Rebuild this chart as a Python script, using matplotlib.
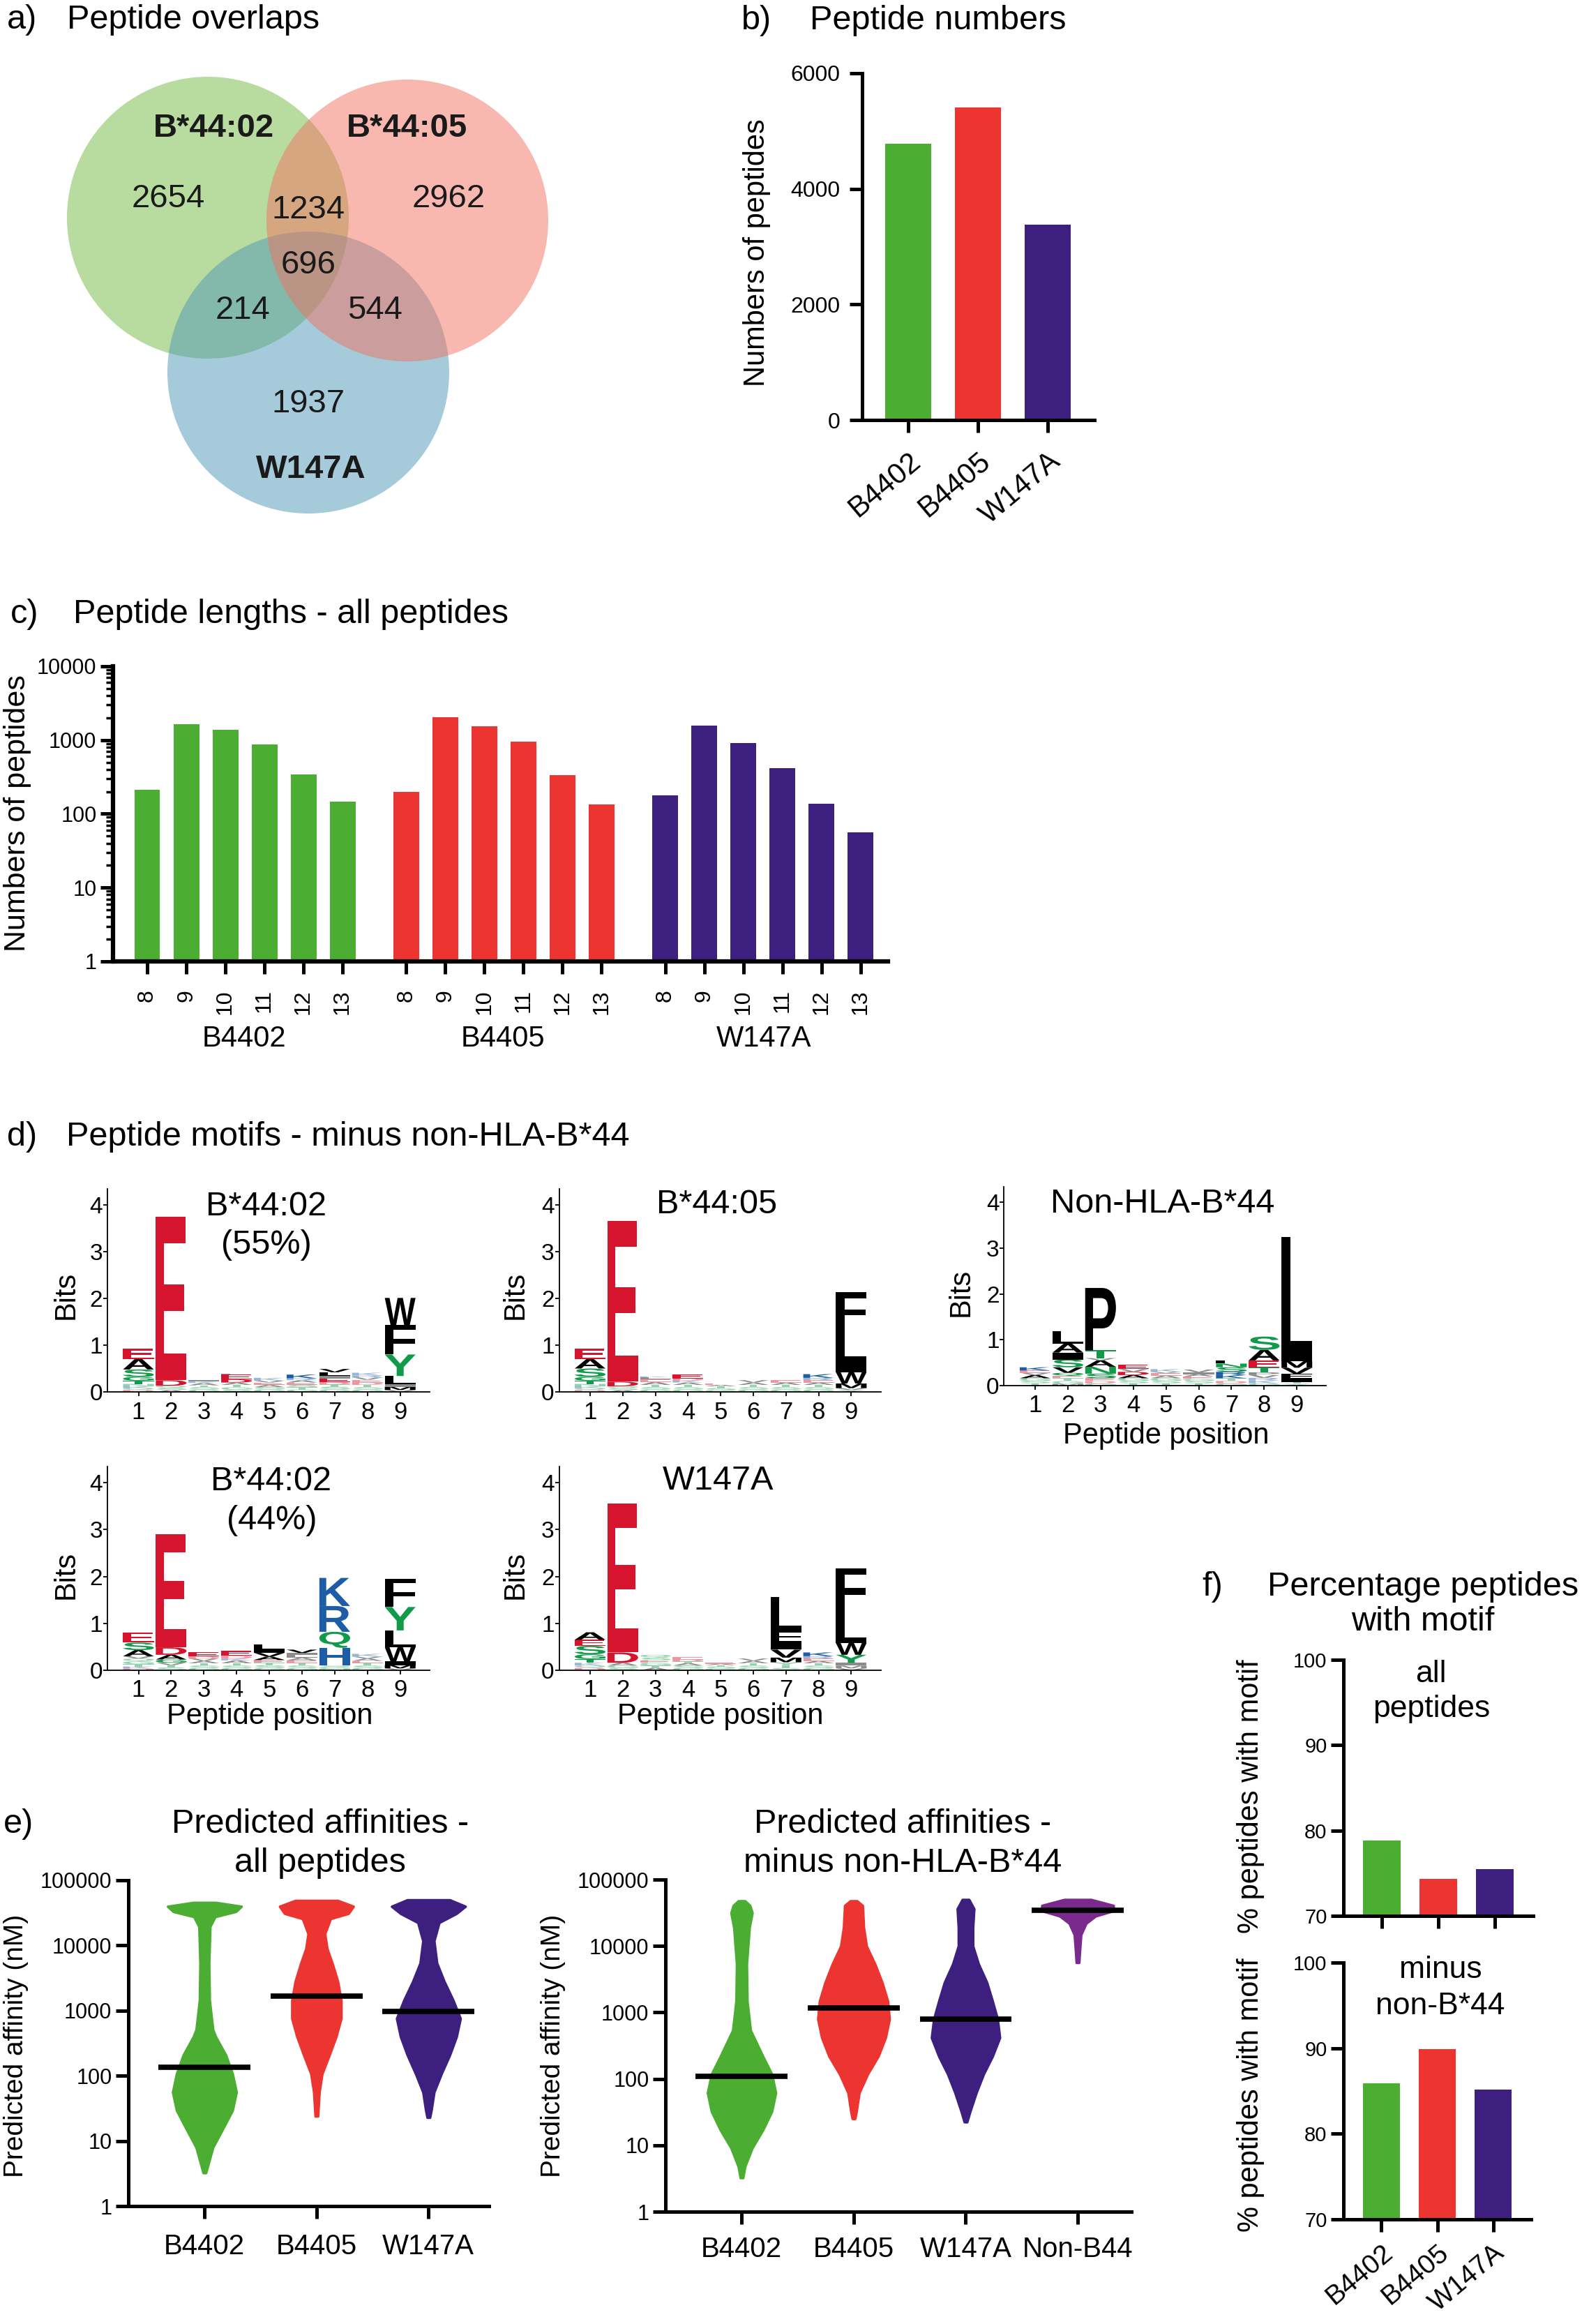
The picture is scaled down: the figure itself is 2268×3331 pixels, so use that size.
import numpy as np
import matplotlib
matplotlib.use("Agg")
import matplotlib.pyplot as plt
from matplotlib.patches import Circle, PathPatch
from matplotlib.textpath import TextPath
from matplotlib.font_manager import FontProperties
from matplotlib.transforms import Affine2D
from matplotlib.ticker import LogLocator, NullFormatter

plt.rcParams['font.family'] = ['Liberation Sans', 'DejaVu Sans']

W, H = 2268, 3331
GREEN, RED, PURPLE, VIOLET = '#4bae32', '#ec3431', '#3d1f80', '#7a2a8c'
alleles = ['B4402', 'B4405', 'W147A']
allele_colors = [GREEN, RED, PURPLE]

# a) venn counts
venn_labels = ['B*44:02', 'B*44:05', 'W147A']
venn_counts = {'only_02': 2654, 'only_05': 2962, 'only_w': 1937,
               '02_05': 1234, '02_w': 214, '05_w': 544, 'all': 696}

# b) peptide numbers
peptide_numbers = [4780, 5410, 3375]

# c) length distribution
lengths = [8, 9, 10, 11, 12, 13]
len_b4402 = [213, 1644, 1385, 881, 341, 147]
len_b4405 = [199, 2040, 1543, 956, 335, 133]
len_w147a = [177, 1558, 913, 413, 137, 56]

# d) motif stacks (letter, bits), bottom to top
motif_b4402_55 = [
    [('D', .04), ('Q', .04), ('K', .04), ('N', .05), ('T', .07), ('G', .08), ('S', .16), ('A', .22), ('E', .22)],
    [('A', .04), ('S', .05), ('Q', .04), ('D', .12), ('E', 3.49)],
    [('G', .05), ('S', .05), ('T', .04), ('A', .05), ('K', .03), ('I', .03)],
    [('S', .05), ('G', .05), ('T', .05), ('A', .05), ('D', .07), ('E', .1), ('L', .02)],
    [('G', .05), ('S', .05), ('A', .05), ('E', .05), ('V', .04), ('K', .06)],
    [('G', .05), ('T', .05), ('S', .05), ('E', .05), ('A', .05), ('R', .04), ('K', .08)],
    [('G', .05), ('S', .06), ('T', .05), ('D', .05), ('E', .08), ('I', .06), ('L', .07), ('V', .07)],
    [('G', .05), ('S', .05), ('T', .05), ('D', .05), ('E', .06), ('V', .05), ('R', .04), ('K', .06)],
    [('V', .04), ('M', .07), ('I', .06), ('L', .17), ('Y', .46), ('F', .63), ('W', .58)],
]
motif_b4405 = [
    [('D', .04), ('Q', .04), ('K', .04), ('N', .05), ('T', .07), ('G', .08), ('S', .18), ('A', .2), ('E', .22)],
    [('A', .04), ('S', .04), ('Q', .04), ('D', .1), ('E', 3.44)],
    [('G', .05), ('S', .05), ('T', .05), ('A', .06), ('E', .06), ('L', .04), ('K', .02)],
    [('G', .05), ('S', .05), ('T', .05), ('A', .05), ('K', .04), ('D', .05), ('E', .08)],
    [('G', .04), ('S', .04), ('T', .04), ('A', .03), ('E', .03)],
    [('G', .05), ('S', .05), ('T', .05), ('A', .05), ('V', .05)],
    [('G', .05), ('S', .05), ('T', .05), ('A', .05), ('E', .05)],
    [('G', .05), ('S', .05), ('T', .05), ('A', .05), ('E', .05), ('R', .05), ('K', .08)],
    [('Y', .04), ('V', .04), ('M', .1), ('W', .24), ('I', .22), ('L', .71), ('F', .78)],
]
motif_nonb44 = [
    [('T', .05), ('S', .05), ('G', .06), ('A', .07), ('V', .05), ('E', .05), ('K', .07)],
    [('M', .04), ('G', .06), ('T', .06), ('E', .05), ('Q', .07), ('V', .12), ('S', .17), ('I', .15), ('A', .2), ('L', .26)],
    [('G', .05), ('D', .05), ('E', .06), ('S', .1), ('N', .15), ('A', .14), ('V', .05), ('T', .17), ('P', 1.36)],
    [('T', .05), ('S', .05), ('G', .06), ('A', .07), ('D', .07), ('V', .06), ('E', .09)],
    [('T', .05), ('S', .05), ('G', .06), ('A', .06), ('E', .05), ('V', .03), ('K', .06)],
    [('T', .05), ('S', .05), ('G', .05), ('E', .05), ('A', .05), ('I', .04), ('V', .06)],
    [('G', .05), ('D', .05), ('T', .06), ('K', .07), ('R', .07), ('S', .1), ('N', .08), ('L', .07)],
    [('G', .05), ('K', .06), ('R', .06), ('V', .06), ('P', .06), ('T', .1), ('E', .16), ('A', .23), ('S', .29)],
    [('Y', .04), ('T', .04), ('I', .08), ('F', .1), ('V', .13), ('M', .15), ('L', 2.7)],
]
motif_b4402_44 = [
    [('D', .04), ('K', .04), ('T', .05), ('G', .06), ('Q', .06), ('V', .05), ('A', .13), ('S', .16), ('E', .22)],
    [('S', .06), ('T', .05), ('V', .05), ('G', .07), ('A', .1), ('D', .16), ('E', 2.41)],
    [('G', .05), ('S', .05), ('T', .05), ('A', .05), ('V', .05), ('D', .05), ('E', .08)],
    [('G', .05), ('S', .05), ('T', .05), ('A', .06), ('K', .04), ('D', .06), ('E', .1)],
    [('G', .05), ('S', .06), ('T', .05), ('E', .06), ('A', .07), ('V', .08), ('I', .08), ('L', .1)],
    [('G', .05), ('S', .05), ('T', .05), ('E', .06), ('A', .06), ('L', .06), ('I', .04), ('V', .07)],
    [('N', .03), ('G', .04), ('S', .03), ('H', .38), ('Q', .34), ('R', .55), ('K', .6)],
    [('G', .05), ('S', .05), ('T', .05), ('E', .05), ('A', .05), ('V', .04), ('K', .06)],
    [('V', .04), ('M', .07), ('I', .08), ('W', .3), ('L', .36), ('Y', .5), ('F', .6)],
]
motif_w147a = [
    [('D', .05), ('Q', .05), ('K', .06), ('T', .08), ('G', .1), ('S', .18), ('E', .13), ('A', .16)],
    [('S', .05), ('G', .05), ('A', .06), ('D', .22), ('E', 3.17)],
    [('A', .05), ('T', .05), ('G', .06), ('E', .05), ('S', .06), ('Q', .06)],
    [('G', .05), ('S', .05), ('A', .05), ('T', .04), ('D', .04), ('E', .05)],
    [('G', .04), ('S', .04), ('T', .03), ('A', .03), ('E', .03)],
    [('G', .05), ('S', .05), ('T', .05), ('A', .05), ('V', .05)],
    [('S', .05), ('T', .06), ('Y', .06), ('M', .1), ('V', .17), ('I', .18), ('F', .22), ('L', .72)],
    [('G', .05), ('S', .05), ('T', .05), ('A', .05), ('E', .05), ('R', .05), ('K', .08)],
    [('V', .04), ('M', .06), ('I', .06), ('Y', .17), ('W', .25), ('L', .7), ('F', .9)],
]

# e) affinity profiles: log10(nM) levels and swarm half-widths
aff_all_levels = {
    'B4402': [4.66, 4.60, 4.52, 4.44, 4.29, 3.73, 3.16, 2.71, 2.60, 2.32, 2.03, 1.75, 1.47, 1.19, 0.90, 0.62, 0.51],
    'B4405': [4.69, 4.60, 4.49, 4.41, 4.18, 3.95, 3.73, 3.45, 3.16, 2.88, 2.60, 2.32, 2.03, 1.75, 1.38],
    'W147A': [4.70, 4.60, 4.49, 4.35, 4.07, 3.73, 3.45, 3.16, 2.88, 2.60, 2.32, 2.03, 1.75, 1.47, 1.36],
}
aff_all_widths = {
    'B4402': [0.10, 0.33, 0.28, 0.095, 0.05, 0.04, 0.045, 0.075, 0.10, 0.19, 0.25, 0.285, 0.25, 0.165, 0.075, 0.03, 0.012],
    'B4405': [0.19, 0.33, 0.285, 0.125, 0.075, 0.095, 0.14, 0.19, 0.22, 0.22, 0.175, 0.115, 0.05, 0.025, 0.012],
    'W147A': [0.19, 0.33, 0.25, 0.095, 0.05, 0.075, 0.14, 0.22, 0.285, 0.25, 0.19, 0.115, 0.05, 0.025, 0.012],
}
aff_all_medians = [135, 1660, 980]

aff_sub_groups = ['B4402', 'B4405', 'W147A', 'Non-B44']
aff_sub_colors = [GREEN, RED, PURPLE, VIOLET]
aff_sub_levels = {
    'B4402': [4.68, 4.61, 4.50, 4.28, 3.73, 3.17, 2.73, 2.34, 2.07, 1.79, 1.51, 1.23, 0.96, 0.68, 0.51],
    'B4405': [4.68, 4.61, 4.28, 4.00, 3.73, 3.45, 3.17, 2.90, 2.62, 2.34, 2.07, 1.79, 1.51, 1.40],
    'W147A': [4.70, 4.56, 4.28, 4.00, 3.73, 3.45, 3.17, 2.90, 2.62, 2.34, 2.07, 1.79, 1.51, 1.35],
    'Non-B44': [4.70, 4.61, 4.53, 4.45, 4.34, 4.17, 3.95, 3.75],
}
aff_sub_widths = {
    'B4402': [0.03, 0.075, 0.095, 0.07, 0.045, 0.05, 0.08, 0.19, 0.27, 0.305, 0.27, 0.19, 0.095, 0.03, 0.012],
    'B4405': [0.03, 0.08, 0.09, 0.115, 0.19, 0.255, 0.305, 0.32, 0.285, 0.22, 0.125, 0.05, 0.025, 0.012],
    'W147A': [0.03, 0.075, 0.065, 0.065, 0.115, 0.19, 0.24, 0.285, 0.305, 0.24, 0.16, 0.095, 0.04, 0.012],
    'Non-B44': [0.12, 0.32, 0.32, 0.16, 0.075, 0.03, 0.02, 0.012],
}
aff_sub_medians = [109, 1180, 790, 34700]

# f) percentage with motif
pct_all = [78.8, 74.3, 75.5]
pct_sub = [85.9, 89.9, 85.2]

fig = plt.figure(figsize=(W / 100, H / 100), dpi=100)


def rect(l, t, r, b):
    return [l / W, 1 - b / H, (r - l) / W, (b - t) / H]


def ftext(x, y, s, **kw):
    kw.setdefault('va', 'baseline')
    fig.text(x / W, 1 - y / H, s, **kw)


def style(ax, lw=3.6, tlen=13, tw=3.6, size=22):
    for s in ['top', 'right']:
        ax.spines[s].set_visible(False)
    for s in ['left', 'bottom']:
        ax.spines[s].set_linewidth(lw)
    ax.tick_params(length=tlen, width=tw, labelsize=size, pad=4)


# ---------- a) venn  (green, then blue, then red on top)
ax = fig.add_axes(rect(0, 0, 1000, 760))
ax.set_xlim(0, 1000)
ax.set_ylim(760, 0)
ax.axis('off')
for (cx, cy), c in zip([(298, 312), (442, 534), (584, 316)],
                       [(0.45, 0.72, 0.25), (0.30, 0.60, 0.72), (0.95, 0.45, 0.38)]):
    ax.add_patch(Circle((cx, cy), 202, fc=c, alpha=0.5, lw=0))
for (x, y), key in zip([(241, 297), (643, 297), (442, 591), (442, 313), (348, 457), (538, 457), (442, 392)],
                       ['only_02', 'only_05', 'only_w', '02_05', '02_w', '05_w', 'all']):
    ax.text(x, y, str(venn_counts[key]), ha='center', va='baseline', fontsize=34, color='#1a1a1a')
for (x, y), lab in zip([(306, 196), (584, 196), (446, 685)], venn_labels):
    ax.text(x, y, lab, ha='center', va='baseline', fontsize=34, fontweight='bold', color='#1a1a1a')
ftext(10, 41, 'a)', fontsize=35)
ftext(96, 41, 'Peptide overlaps', fontsize=35)

# ---------- b) peptide numbers
ax = fig.add_axes(rect(1236, 105, 1569, 602))
ax.bar(range(3), peptide_numbers, width=0.66, color=allele_colors)
ax.set_xlim(-0.66, 2.67)
ax.set_ylim(0, 6000)
ax.set_yticks([0, 2000, 4000, 6000])
style(ax, size=23)
ax.tick_params(axis='y', pad=10)
ax.set_xticks(range(3))
ax.set_xticklabels(alleles, rotation=40, ha='right', rotation_mode='anchor', fontsize=30)
ax.tick_params(axis='x', pad=15)
ftext(1063, 42, 'b)', fontsize=35)
ftext(1161, 42, 'Peptide numbers', fontsize=35)
ftext(1085, 362, 'Numbers of peptides', fontsize=30, rotation=90, ha='center', va='center')

# ---------- c) lengths
ax = fig.add_axes(rect(162, 955, 1273, 1378))
pos, ticks = [], []
for g, (vals, col) in enumerate(zip([len_b4402, len_b4405, len_w147a], allele_colors)):
    xs = [g * 6.63 + i for i in range(len(lengths))]
    ax.bar(xs, vals, width=0.66, color=col)
    pos += xs
    ticks += [str(v) for v in lengths]
ax.set_yscale('log')
ax.set_ylim(1, 10000)
ax.set_xlim(-0.875, 18.96)
style(ax, lw=4.5, size=22)
ax.yaxis.set_minor_locator(LogLocator(subs=np.arange(2, 10)))
ax.yaxis.set_minor_formatter(NullFormatter())
ax.tick_params(axis='y', which='minor', length=7, width=2.5)
ax.set_yticks([1, 10, 100, 1000, 10000])
ax.set_yticklabels(['1', '10', '100', '1000', '10000'])
ax.set_xticks(pos)
ax.set_xticklabels(ticks, rotation=90, fontsize=23)
ax.tick_params(axis='x', pad=16)
for g, name in enumerate(alleles):
    ftext([350, 721, 1095][g], 1500, name, fontsize=30, ha='center')
ftext(15, 893, 'c)', fontsize=35)
ftext(105, 893, 'Peptide lengths - all peptides', fontsize=35)
ftext(25, 1166, 'Numbers of peptides', fontsize=31, rotation=90, ha='center', va='center')

# ---------- d) logos
GLYPH = FontProperties(family=['Liberation Sans', 'DejaVu Sans'], weight='bold')
AA_COLORS = {}
for a in 'AVLIPWFM':
    AA_COLORS[a] = '#000000'
for a in 'GSTYCNQ':
    AA_COLORS[a] = '#109a4a'
for a in 'KRH':
    AA_COLORS[a] = '#1d5ca6'
for a in 'DE':
    AA_COLORS[a] = '#d6142d'


def draw_logo(ax, stacks):
    for p, stack in enumerate(stacks, start=1):
        y0 = 0.0
        for letter, h in stack:
            tp = TextPath((0, 0), letter, size=1, prop=GLYPH)
            bb = tp.get_extents()
            tr = Affine2D().translate(-bb.x0, -bb.y0).scale(0.94 / bb.width, h / bb.height).translate(p - 0.47, y0)
            col = np.array(matplotlib.colors.to_rgb(AA_COLORS[letter]))
            if h < 0.07:
                col = col * 0.45 + 0.55
            ax.add_patch(PathPatch(tr.transform_path(tp), fc=col, ec='none', lw=0))
            y0 += h


logo_specs = [
    # stacks, pos1 px, spacing, zero px, px per bit
    (motif_b4402_55, 198.5, 46.9, 1995, 67),
    (motif_b4405, 846, 46.8, 1995, 67),
    (motif_nonb44, 1484, 46.9, 1986, 65.7),
    (motif_b4402_44, 198.5, 46.9, 2394, 67.2),
    (motif_w147a, 846, 46.8, 2394, 67.2),
]
for stacks, p1, sp, zero, ppb in logo_specs:
    ax = fig.add_axes(rect(p1 - 0.95 * sp, zero - 4.34 * ppb, p1 + 8.9 * sp, zero))
    draw_logo(ax, stacks)
    ax.set_xlim(0.05, 9.9)
    ax.set_ylim(0, 4.34)
    style(ax, lw=1.3, tlen=4, tw=1.3, size=24)
    ax.set_xticks(range(1, 10))
    ax.set_yticks(range(5))
    ax.tick_params(axis='x', labelsize=25, pad=5)
    ax.tick_params(axis='y', pad=1)

logo_titles = [(382, 1742, 'B*44:02'), (382, 1797, '(55%)'), (1028, 1739, 'B*44:05'),
               (1667, 1738, 'Non-HLA-B*44'), (389, 2136, 'B*44:02'), (390, 2192, '(44%)'),
               (1030, 2135, 'W147A')]
for x, y, s in logo_titles:
    ftext(x, y, s, fontsize=35, ha='center')
for x, y in [(387, 2471), (1033, 2471), (1672, 2069)]:
    ftext(x, y, 'Peptide position', fontsize=30, ha='center')
for x, y in [(95, 1856), (739, 1856), (1378, 1852), (95, 2257), (739, 2257)]:
    ftext(x, y, 'Bits', fontsize=30, rotation=90, ha='center', va='center')
ftext(10, 1642, 'd)', fontsize=35)
ftext(95, 1642, 'Peptide motifs - minus non-HLA-B*44', fontsize=35)


# ---------- e) affinities
def swarm_panel(box, groups, colors, levels, widths, medians, xmax, xpad):
    ax = fig.add_axes(rect(*box))
    for g, (name, col) in enumerate(zip(groups, colors)):
        lv = np.array(levels[name])
        hw = np.array(widths[name])
        ax.fill_betweenx(10 ** lv, g - hw, g + hw, color=col, lw=2.5, ec=col)
        ax.hlines(medians[g], g - 0.41, g + 0.41, color='black', lw=5.5, zorder=3)
    ax.set_yscale('log')
    ax.set_ylim(1, 1e5)
    ax.set_xlim(-0.68, xmax)
    style(ax, size=22)
    ax.minorticks_off()
    ax.set_yticks([1, 10, 100, 1000, 10000, 100000])
    ax.set_yticklabels(['1', '10', '100', '1000', '10000', '100000'])
    ax.set_xticks(range(len(groups)))
    ax.set_xticklabels(groups, fontsize=29)
    ax.tick_params(axis='x', pad=xpad)
    return ax


swarm_panel((184, 2695, 701, 3162), alleles, allele_colors,
            aff_all_levels, aff_all_widths, aff_all_medians, 2.54, 15)
swarm_panel((954, 2694, 1622, 3170), aff_sub_groups, aff_sub_colors,
            aff_sub_levels, aff_sub_widths, aff_sub_medians, 3.48, 12)
ftext(5, 2627, 'e)', fontsize=35)
for cx, l2 in [(459, 'all peptides'), (1294, 'minus non-HLA-B*44')]:
    ftext(cx, 2627, 'Predicted affinities -', fontsize=35, ha='center')
    ftext(cx, 2683, l2, fontsize=35, ha='center')
for x in [23, 793]:
    ftext(x, 2932, 'Predicted affinity (nM)', fontsize=28, rotation=90, ha='center', va='center')

# ---------- f) percentage with motif
for box, vals, labels, lines in [((1926, 2379, 2198, 2746), pct_all, False,
                                  [(2051, 2411, 'all'), (2052, 2461, 'peptides')]),
                                 ((1926, 2813, 2195, 3181), pct_sub, True,
                                  [(2065, 2835, 'minus'), (2065, 2887, 'non-B*44')])]:
    ax = fig.add_axes(rect(*box))
    ax.bar(range(3), vals, width=0.67, color=allele_colors)
    ax.set_xlim(-0.68, 2.68)
    ax.set_ylim(70, 100)
    ax.set_yticks([70, 80, 90, 100])
    style(ax, size=21)
    ax.set_xticks(range(3))
    if labels:
        ax.set_xticklabels(alleles, rotation=40, ha='right', rotation_mode='anchor', fontsize=28)
        ax.tick_params(axis='x', pad=8)
    else:
        ax.set_xticklabels([])
    for x, y, s in lines:
        ftext(x, y, s, fontsize=32, ha='center')
for y in [2575, 3003]:
    ftext(1793, y, '% peptides with motif', fontsize=30, rotation=90, ha='center', va='center')
ftext(1723, 2287, 'f)', fontsize=35)
ftext(2040, 2287, 'Percentage peptides', fontsize=35, ha='center')
ftext(2040, 2337, 'with motif', fontsize=35, ha='center')

fig.savefig('out.png', dpi=100)
